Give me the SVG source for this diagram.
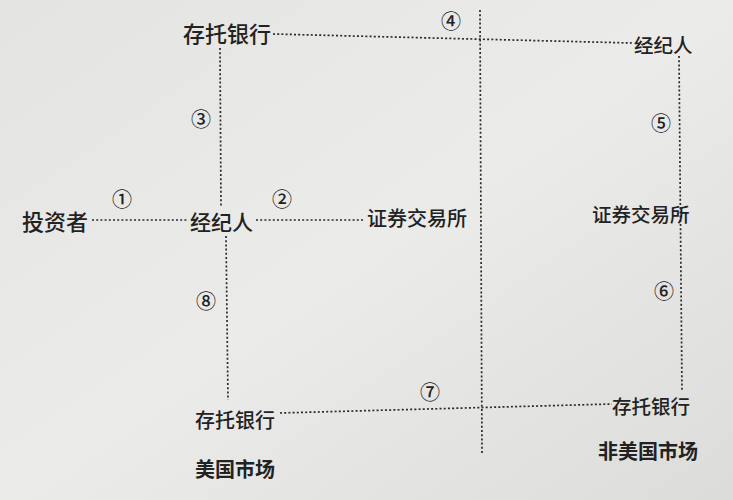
<svg xmlns="http://www.w3.org/2000/svg" width="733" height="500" viewBox="0 0 733 500">
<defs>
<style>
.t{font-family:"Noto Sans CJK SC","Noto Sans CJK JP",sans-serif;fill:#222;font-weight:500;}
.n{font-size:21px;}
.b{font-size:20px;font-weight:bold;}
.c{font-family:"Noto Sans CJK SC","DejaVu Sans",sans-serif;font-size:20px;fill:#222;text-anchor:middle;font-weight:500;}
.d{stroke:#2a2a2a;stroke-width:1.7;stroke-dasharray:2 2.2;fill:none;}
</style>
<linearGradient id="bg" x1="0" y1="0" x2="1" y2="1">
<stop offset="0" stop-color="#e4e4e2"/>
<stop offset="0.5" stop-color="#ebebea"/>
<stop offset="1" stop-color="#dcdcda"/>
</linearGradient>
</defs>
<rect width="733" height="500" fill="url(#bg)"/>
<g id="connectors">
<line class="d" x1="273" y1="34" x2="632" y2="43"/>
<line class="d" x1="480" y1="10" x2="482" y2="455"/>
<line class="d" x1="220" y1="48" x2="221" y2="206"/>
<line class="d" x1="226" y1="236" x2="228" y2="400"/>
<line class="d" x1="92" y1="220" x2="188" y2="220"/>
<line class="d" x1="256" y1="220" x2="364" y2="220"/>
<line class="d" x1="679" y1="56" x2="682" y2="392"/>
<line class="d" x1="280" y1="413" x2="612" y2="404"/>
</g>
<g id="labels">
<text class="c" x="122" y="207">①</text>
<text class="c" x="282" y="207">②</text>
<text class="c" x="201" y="127">③</text>
<text class="c" x="451" y="29">④</text>
<text class="c" x="661" y="131">⑤</text>
<text class="c" x="664" y="299">⑥</text>
<text class="c" x="430" y="400">⑦</text>
<text class="c" x="206" y="309">⑧</text>
</g>
<g id="bank-us-top"><text class="t" x="183" y="42" font-size="22">存托银行</text></g>
<g id="investor"><text class="t" x="22" y="230" font-size="22">投资者</text></g>
<g id="broker-us"><text class="t n" x="190" y="230">经纪人</text></g>
<g id="exchange-us"><text class="t" x="367" y="226" font-size="20">证券交易所</text></g>
<g id="bank-us-bottom"><text class="t" x="195" y="428" font-size="20">存托银行</text></g>
<g id="broker-nonus"><text class="t" x="634" y="53" font-size="19.5">经纪人</text></g>
<g id="exchange-nonus"><text class="t" x="592" y="222" font-size="19.5">证券交易所</text></g>
<g id="bank-nonus"><text class="t" x="612" y="414" font-size="19.5">存托银行</text></g>
<g id="market-us"><text class="t b" x="195" y="477">美国市场</text></g>
<g id="market-nonus"><text class="t b" x="598" y="459">非美国市场</text></g>
</svg>
